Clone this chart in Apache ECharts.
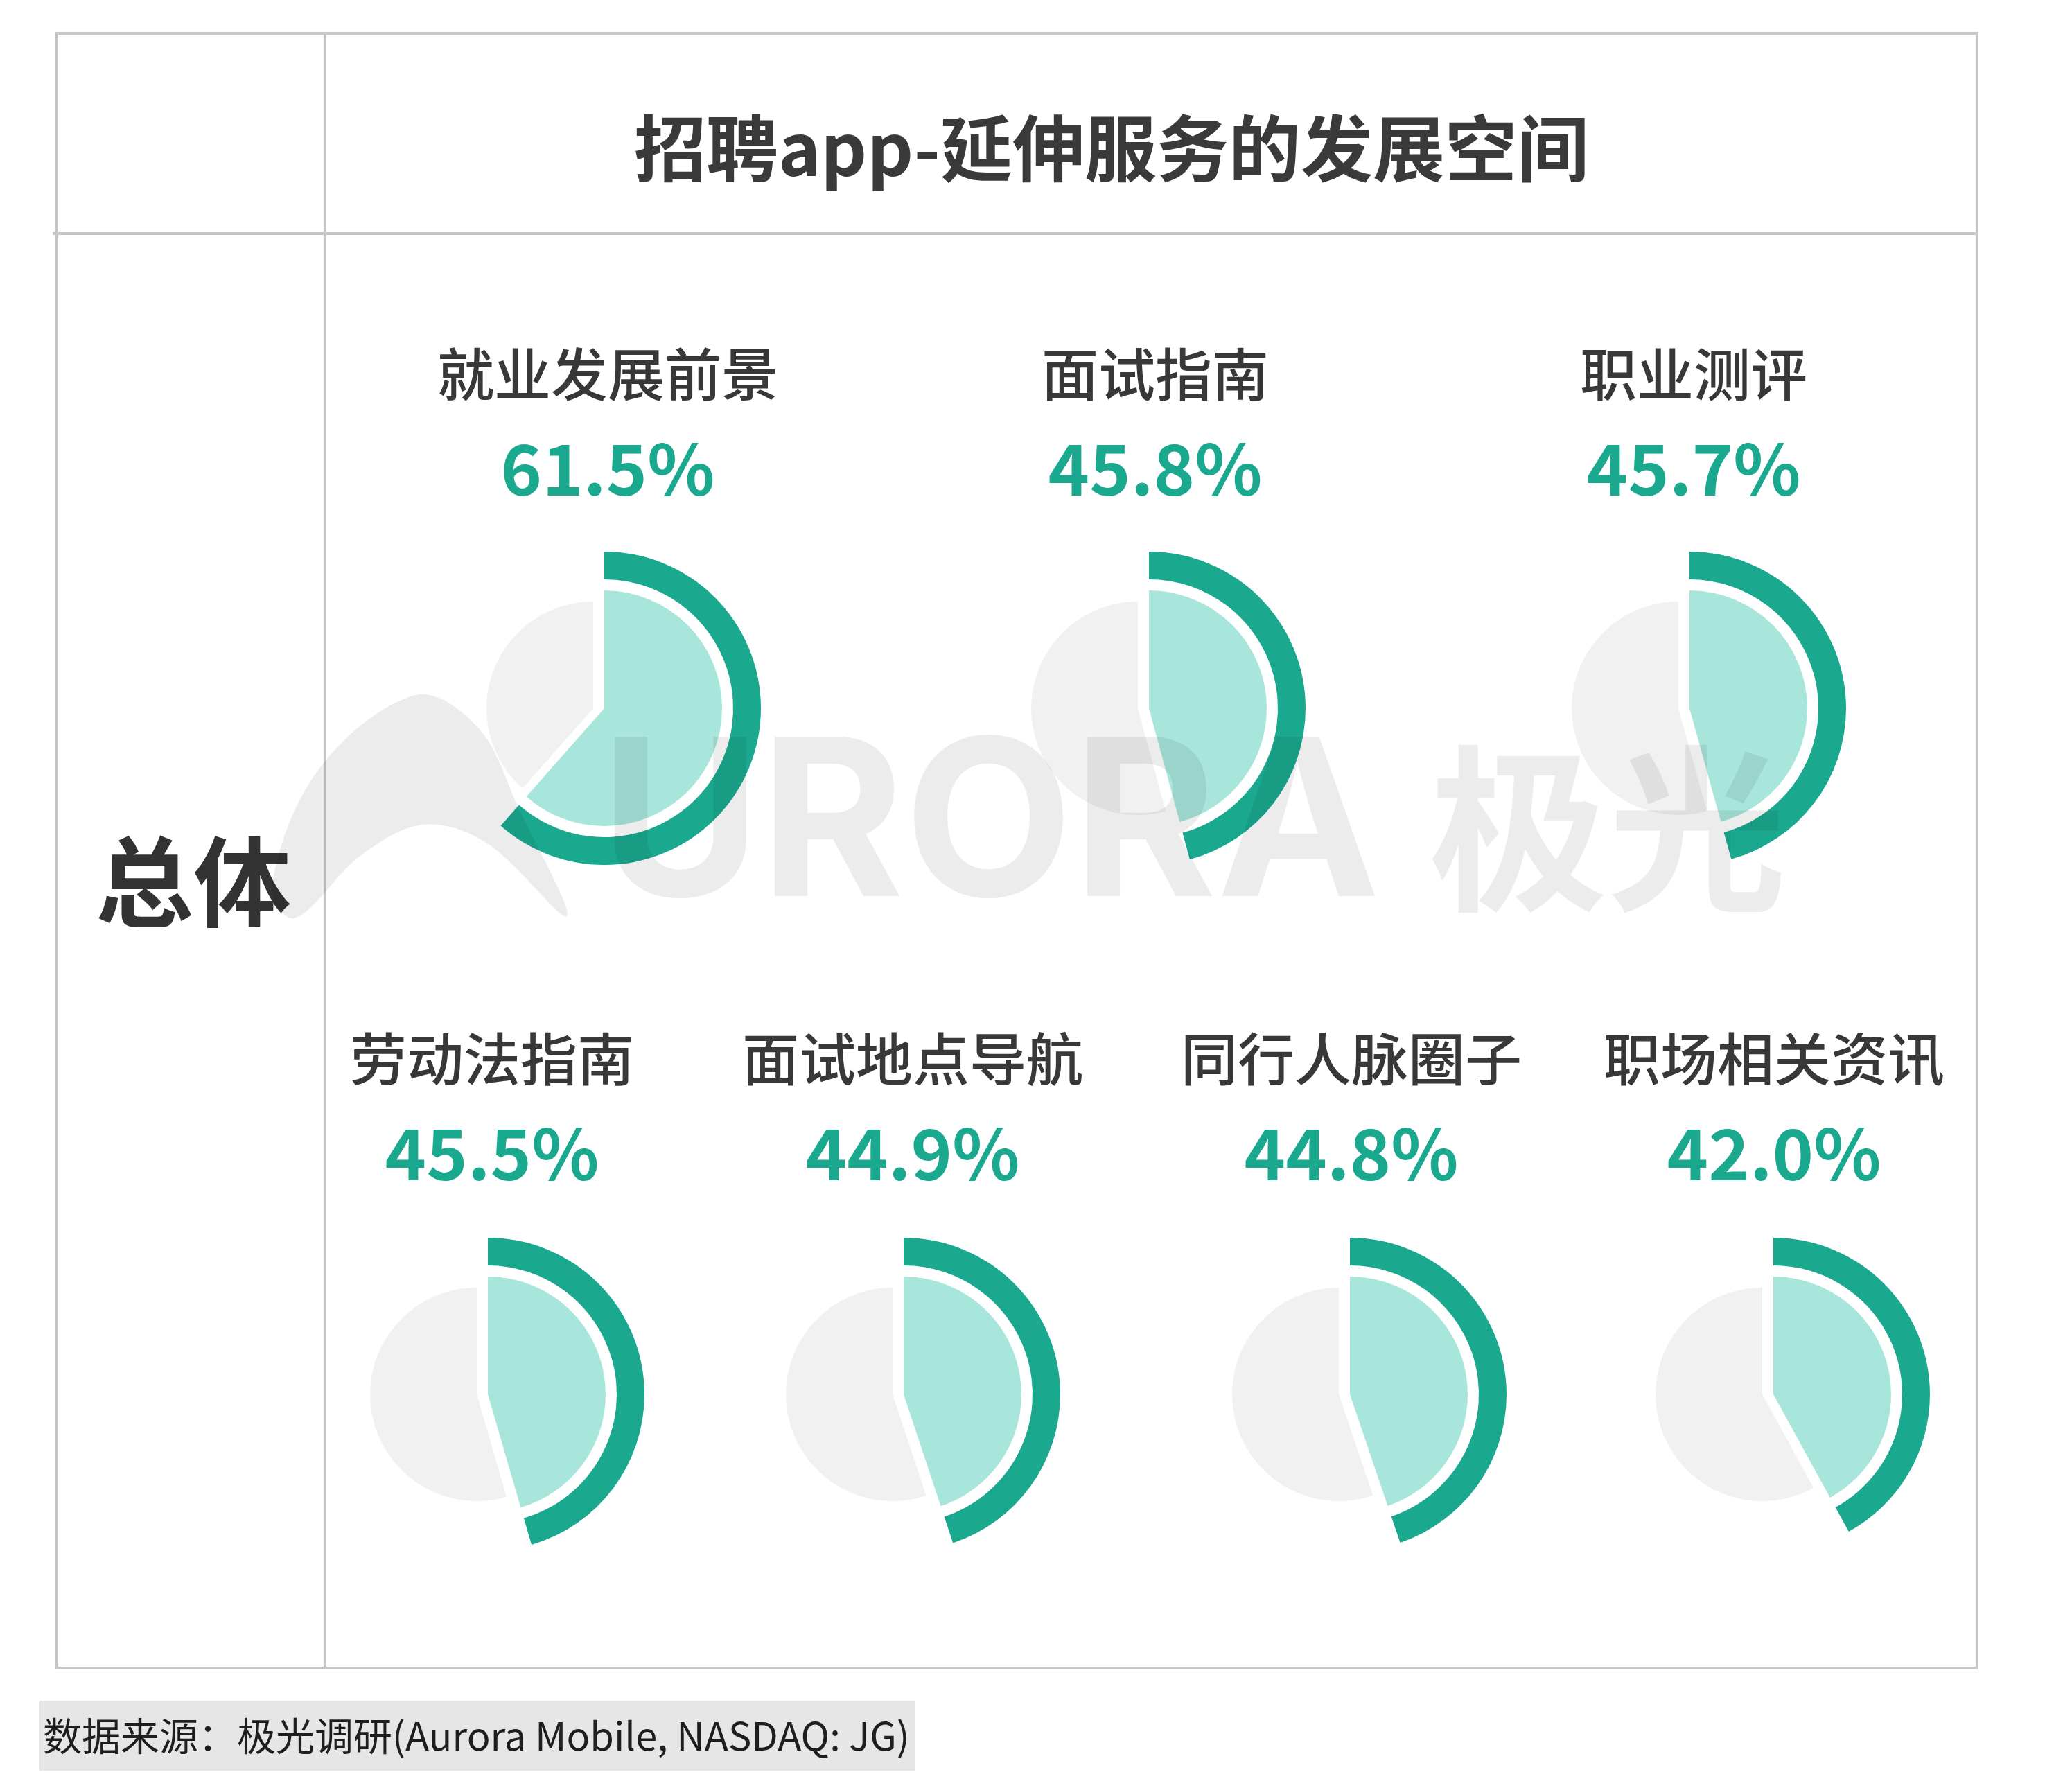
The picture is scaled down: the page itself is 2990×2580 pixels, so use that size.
<!DOCTYPE html>
<html>
<head>
<meta charset="utf-8">
<script src="https://cdn.jsdelivr.net/npm/echarts@6/dist/echarts.min.js"></script>
<style>
html,body{margin:0;padding:0;background:#fff;}
#chart{width:2990px;height:2580px;}
</style>
</head>
<body>
<div id="chart"></div>
<script>
// ---- data ----
const chartTitle = '招聘app-延伸服务的发展空间';
const rowLabel = '总体';
const categories = ['就业发展前景', '面试指南', '职业测评', '劳动法指南', '面试地点导航', '同行人脉圈子', '职场相关资讯'];
const values = [61.5, 45.8, 45.7, 45.5, 44.9, 44.8, 42.0];
const sourceText = '数据来源：极光调研(Aurora Mobile, NASDAQ: JG)';

// ---- layout ----
const pieCenters = [[872, 1022], [1658, 1022], [2438, 1022], [704, 2012], [1304, 2012], [1948, 2012], [2559, 2012]];
const labelX = [877, 1667, 2444, 710, 1317, 1950, 2560];
const labelY = [540, 540, 540, 1528, 1528, 1528, 1528];
const pctY = [677, 677, 677, 1665, 1665, 1665, 1665];

const DARK = '#1aa98f';
const LIGHT = '#a8e6dc';
const GRAY = '#f1f1f1';
const LINE = '#c6c6c6';
const CJK = '"Noto Sans CJK SC", "Noto Sans", sans-serif';
const NONE = 'rgba(0,0,0,0)';

const series = [];
values.forEach((v, i) => {
  const [cx, cy] = pieCenters[i];
  const common = {
    type: 'pie', silent: true, startAngle: 90, clockwise: true,
    label: {show: false}, labelLine: {show: false},
    emphasis: {disabled: true}, avoidLabelOverlap: false, animation: false
  };
  series.push(Object.assign({}, common, {
    z: 1, center: [cx - 16, cy], radius: 154,
    data: [{value: v, itemStyle: {color: NONE}}, {value: 100 - v, itemStyle: {color: GRAY}}]
  }));
  series.push(Object.assign({}, common, {
    z: 2, center: [cx, cy], radius: 170,
    data: [{value: v, itemStyle: {color: LIGHT}}, {value: 100 - v, itemStyle: {color: NONE}}]
  }));
  series.push(Object.assign({}, common, {
    z: 3, center: [cx, cy], radius: [186, 226],
    data: [{value: v, itemStyle: {color: DARK}}, {value: 100 - v, itemStyle: {color: NONE}}]
  }));
});

const graphics = [];
// table frame
graphics.push({type: 'rect', z: 5, shape: {x: 82, y: 48, width: 2771, height: 2359},
  style: {fill: 'none', stroke: LINE, lineWidth: 4}});
graphics.push({type: 'line', z: 5, shape: {x1: 76, y1: 337, x2: 2853, y2: 337},
  style: {stroke: LINE, lineWidth: 4}});
graphics.push({type: 'line', z: 5, shape: {x1: 469, y1: 48, x2: 469, y2: 2407},
  style: {stroke: LINE, lineWidth: 4}});
// title
graphics.push({type: 'text', z: 10, x: 1604, y: 214,
  style: {text: chartTitle, fontFamily: CJK, fontSize: 104, fontWeight: 'bold', fill: '#3a3a3a', align: 'center', verticalAlign: 'middle'}});
// row label
graphics.push({type: 'text', z: 10, x: 279, y: 1272,
  style: {text: rowLabel, fontFamily: CJK, fontSize: 141, fontWeight: 'bold', fill: '#333', align: 'center', verticalAlign: 'middle'}});
// category labels and values
categories.forEach((c, i) => {
  graphics.push({type: 'text', z: 10, x: labelX[i], y: labelY[i],
    style: {text: c, fontFamily: CJK, fontSize: 82, fontWeight: 500, fill: '#383838', align: 'center', verticalAlign: 'middle'}});
  graphics.push({type: 'text', z: 10, x: labelX[i], y: pctY[i],
    style: {text: values[i].toFixed(1) + '%', fontFamily: CJK, fontSize: 101, fontWeight: 'bold', fill: DARK, align: 'center', verticalAlign: 'middle'}});
});
// footer source
graphics.push({type: 'rect', z: 5, shape: {x: 57, y: 2454, width: 1263, height: 101},
  style: {fill: '#e6e6e6'}});
graphics.push({type: 'text', z: 10, x: 62, y: 2505,
  style: {text: sourceText, fontFamily: CJK, fontSize: 56, fill: '#1e1e1e', align: 'left', verticalAlign: 'middle'}});
// watermark
const WM = 'rgba(0,0,0,0.075)';
graphics.push({type: 'polygon', z: 100, silent: true,
  shape: {points: [[392, 1280], [460, 1110], [600, 1003], [690, 1050], [750, 1170], [818, 1322], [700, 1215], [610, 1190], [520, 1235], [425, 1325]], smooth: 0.35},
  style: {fill: WM}});
graphics.push({type: 'text', z: 100, silent: true, x: 866, y: 1198,
  style: {text: 'URORA', fontFamily: 'Inter, "DejaVu Sans", sans-serif', fontSize: 316, fontWeight: 'bold', fill: WM, align: 'left', verticalAlign: 'middle'}});
graphics.push({type: 'text', z: 100, silent: true, x: 2062, y: 1196,
  style: {text: '极光', fontFamily: CJK, fontSize: 258, fontWeight: 'bold', fill: WM, align: 'left', verticalAlign: 'middle'}});

const chart = echarts.init(document.getElementById('chart'), null, {renderer: 'canvas', width: 2990, height: 2580});
chart.setOption({
  backgroundColor: '#ffffff',
  animation: false,
  series: series,
  graphic: {elements: graphics}
});
</script>
</body>
</html>
